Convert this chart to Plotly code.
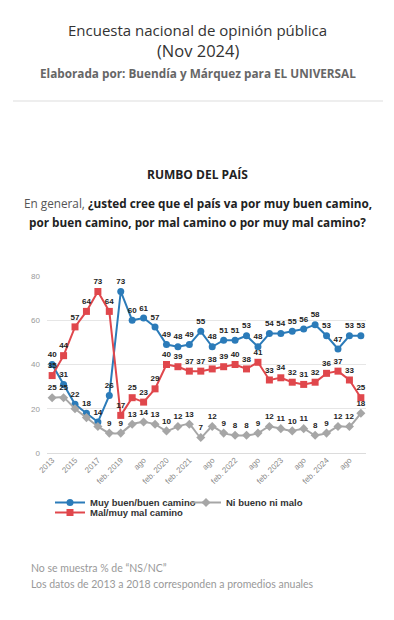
import plotly.graph_objects as go

# ---- data ----
periods = ["2013", "2014", "2015", "2016", "2017", "2018",
           "feb. 2019", "may. 2019", "ago. 2019", "nov. 2019",
           "feb. 2020", "ago. 2020", "feb. 2021", "may. 2021",
           "ago. 2021", "nov. 2021", "feb. 2022", "may. 2022",
           "ago. 2022", "nov. 2022", "feb. 2023", "may. 2023",
           "ago. 2023", "nov. 2023", "feb. 2024", "may. 2024",
           "ago. 2024", "nov. 2024"]
tick_periods = ["2013", "2015", "2017", "feb. 2019", "ago. 2019", "feb. 2020",
                "feb. 2021", "ago. 2021", "feb. 2022", "ago. 2022",
                "feb. 2023", "ago. 2023", "feb. 2024", "ago. 2024"]
tick_labels = ["2013", "2015", "2017", "feb. 2019", "ago", "feb. 2020",
               "feb. 2021", "ago", "feb. 2022", "ago", "feb. 2023", "ago",
               "feb. 2024", "ago"]
buen = [40, 31, 22, 18, 14, 26, 73, 60, 61, 57, 49, 48, 49, 55, 48, 51, 51,
        53, 48, 54, 54, 55, 56, 58, 53, 47, 53, 53]
mal = [35, 44, 57, 64, 73, 64, 17, 25, 23, 29, 40, 39, 37, 37, 38, 39, 40,
       38, 41, 33, 34, 32, 31, 32, 36, 37, 33, 25]
ni = [25, 25, 20, 16, 12, 9, 9, 13, 14, 13, 10, 12, 13, 7, 12, 9, 8, 8, 9,
      12, 11, 10, 11, 8, 9, 12, 12, 18]
ni_labels = ["25", "25", "", "", "", "9", "9"] + [str(v) for v in ni[7:]]

# page offset (browser body margin)
OFF = 8
W, H = 394 - OFF, 620 - OFF
L, R, T, B = 47 - OFF, 28, 276 - OFF, 167
PH = H - T - B
PW = W - L - R


def px_x(x):
    return (x - OFF - L) / PW


def px_y(y):
    return (H - B - (y - OFF)) / PH


BLUE = "#2b7bb9"
RED = "#e0474c"
GRAY = "#a6a6a6"
LABEL_FONT = dict(family="Liberation Sans, Arial", size=8, color="#222",
                  weight="bold")
TXT = "Open Sans"

fig = go.Figure()
fig.add_trace(go.Scatter(
    x=periods, y=buen, name="Muy buen/buen camino", mode="lines+markers+text",
    line=dict(color=BLUE, width=2), marker=dict(symbol="circle", size=7, color=BLUE),
    text=[str(v) for v in buen], textposition="top center", textfont=LABEL_FONT,
    legend="legend", cliponaxis=False))
fig.add_trace(go.Scatter(
    x=periods, y=ni, name="Ni bueno ni malo", mode="lines+markers+text",
    line=dict(color=GRAY, width=2, shape="spline", smoothing=0.5),
    marker=dict(symbol="diamond", size=7, color=GRAY),
    text=ni_labels, textposition="top center", textfont=LABEL_FONT,
    legend="legend", cliponaxis=False))
fig.add_trace(go.Scatter(
    x=periods, y=mal, name="Mal/muy mal camino", mode="lines+markers+text",
    line=dict(color=RED, width=2), marker=dict(symbol="square", size=7, color=RED),
    text=[str(v) for v in mal], textposition="top center", textfont=LABEL_FONT,
    legend="legend2", cliponaxis=False))

legend_font = dict(family="Liberation Sans, Arial", size=9.5, color="#333",
                   weight="bold")

annotations = [
    dict(text="Encuesta nacional de opinión pública", x=px_x(197.5), y=px_y(29.5),
         font=dict(family=TXT, size=15, color="#333")),
    dict(text="(Nov 2024)", x=px_x(197.5), y=px_y(50),
         font=dict(family=TXT, size=16.5, color="#333")),
    dict(text="<b>Elaborada por: Buendía y Márquez para EL UNIVERSAL</b>",
         x=px_x(197.5), y=px_y(73),
         font=dict(family=TXT, size=11.75, color="#666")),
    dict(text="<b>RUMBO DEL PAÍS</b>", x=px_x(197.5), y=px_y(174),
         font=dict(family=TXT, size=12, color="#222")),
    dict(text="<span style='color:#555'>En general, </span><b>¿usted cree que el país va por muy buen camino,</b>",
         x=px_x(197.5), y=px_y(203),
         font=dict(family=TXT, size=11.75, color="#222")),
    dict(text="<b>por buen camino, por mal camino o por muy mal camino?</b>",
         x=px_x(197.5), y=px_y(222),
         font=dict(family=TXT, size=11.75, color="#222")),
    dict(text="No se muestra % de “NS/NC”", x=px_x(30), y=px_y(568),
         xanchor="left", font=dict(family="Lato", size=10.5, color="#999")),
    dict(text="Los datos de 2013 a 2018 corresponden a promedios anuales",
         x=px_x(30), y=px_y(584), xanchor="left",
         font=dict(family="Lato", size=10.5, color="#999")),
]
for a in annotations:
    a.setdefault("xanchor", "center")
    a.update(xref="paper", yref="paper", yanchor="middle", showarrow=False,
             borderpad=0)

shapes = [
    dict(type="line", xref="paper", yref="paper", x0=px_x(13), x1=px_x(383),
         y0=px_y(101), y1=px_y(101), line=dict(color="#ddd", width=1)),
]

fig.update_layout(
    width=W, height=H,
    margin=dict(l=L, r=R, t=T, b=B, autoexpand=False),
    paper_bgcolor="white", plot_bgcolor="white",
    font=dict(family="Liberation Sans, Arial"),
    annotations=annotations, shapes=shapes,
    showlegend=True,
    legend=dict(orientation="h", x=px_x(50), y=px_y(488), xanchor="left",
                yanchor="top", font=legend_font, entrywidth=91,
                entrywidthmode="pixels", bgcolor="rgba(0,0,0,0)"),
    legend2=dict(orientation="h", x=px_x(50), y=px_y(498), xanchor="left",
                 yanchor="top", font=legend_font, bgcolor="rgba(0,0,0,0)"),
    xaxis=dict(type="category", categoryorder="array", categoryarray=periods,
               range=[-0.45, 27.45], tickmode="array", tickvals=tick_periods,
               ticktext=tick_labels, tickangle=-45, showgrid=False,
               showline=False, zeroline=False, ticks="", automargin=False,
               tickfont=dict(family="Liberation Sans, Arial", size=8, color="#888")),
    yaxis=dict(range=[0, 80], tickmode="array", tickvals=[0, 20, 40, 60, 80],
               showgrid=True, gridcolor="#e6e6e6", gridwidth=1,
               zeroline=True, zerolinecolor="#dcdcdc", zerolinewidth=1,
               showline=False, ticks="", ticklabelstandoff=6, automargin=False,
               tickfont=dict(family="Liberation Sans, Arial", size=8, color="#999")),
)

fig.write_html("out.html")
